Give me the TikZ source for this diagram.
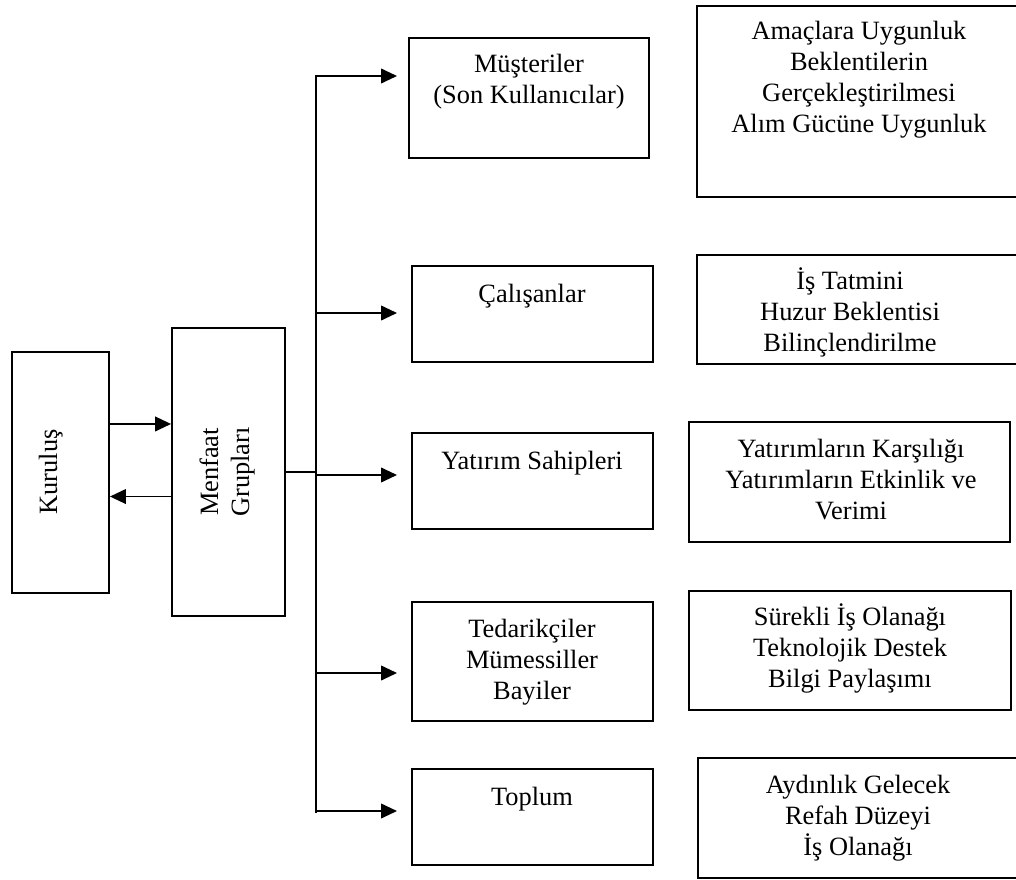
\documentclass[tikz,border=0pt]{standalone}
\usepackage{fontspec}
\setmainfont{Liberation Serif}
\usetikzlibrary{arrows.meta,fit}
% centred stack of lines whose baseline is that of its first line
\newcommand\stk[1]{\begin{tabular}[t]{@{}c@{}}#1\end{tabular}}
\begin{document}
\begin{tikzpicture}[x=0.75pt,y=-0.75pt,
  box/.style={draw,line width=1.4pt,inner sep=0pt,rectangle},
  lbl/.style={anchor=base,inner sep=0pt,font=\fontsize{19.8}{23.25}\selectfont},
  link/.style={line width=1.4pt},
  arr/.style={link,-{Triangle[length=12pt,width=11pt]}}]
\useasboundingbox (0,0) rectangle (1016,880);
\clip (0,0) rectangle (1016,880);

% main boxes
\node[box,fit={(12,352) (109,593)}] (kur) {};
\node[box,fit={(172,328) (285,616)}] (men) {};
\node[lbl,rotate=90] (kurT) at (57,472) {Kuruluş};
\node[lbl,rotate=90] (menT) at (218,472) {\stk{Menfaat\\Grupları}};

% stakeholder groups
\node[box,fit={(409,38) (649,158)}] (mus) {};
\node[box,fit={(412,266) (653,362)}] (cal) {};
\node[box,fit={(412,433) (653,529)}] (yat) {};
\node[box,fit={(412,602) (653,721)}] (ted) {};
\node[box,fit={(412,769) (653,865)}] (top) {};
\node[lbl] (musT) at (529,73) {\stk{Müşteriler\\(Son Kullanıcılar)}};
\node[lbl] (calT) at (532,302) {Çalışanlar};
\node[lbl] (yatT) at (532,469) {Yatırım Sahipleri};
\node[lbl] (tedT) at (532,637) {\stk{Tedarikçiler\\Mümessiller\\Bayiler}};
\node[lbl] (topT) at (532,805) {Toplum};

% expectations of each group
\node[box,fit={(697,6) (1022,197)}] (r1) {};
\node[box,fit={(697,255) (1022,364)}] (r2) {};
\node[box,fit={(689,422) (1010,542)}] (r3) {};
\node[box,fit={(689,591) (1011,710)}] (r4) {};
\node[box,fit={(698,758) (1022,878)}] (r5) {};
\node[lbl] (r1T) at (859,40) {\stk{Amaçlara Uygunluk\\Beklentilerin\\Gerçekleştirilmesi\\Alım Gücüne Uygunluk}};
\node[lbl] (r2T) at (850,290) {\stk{İş Tatmini\\Huzur Beklentisi\\Bilinçlendirilme}};
\node[lbl] (r3T) at (851,457) {\stk{Yatırımların Karşılığı\\Yatırımların Etkinlik ve\\Verimi}};
\node[lbl] (r4T) at (850,625) {\stk{Sürekli İş Olanağı\\Teknolojik Destek\\Bilgi Paylaşımı}};
\node[lbl] (r5T) at (858,793) {\stk{Aydınlık Gelecek\\Refah Düzeyi\\İş Olanağı}};

% two-way link between the organisation and the groups
\draw[arr] ([yshift=36.4pt]kur.east) -- ([yshift=36.4pt]kur.east -| men.west);
\draw[arr] ([yshift=-18.4pt]men.west) -- ([yshift=-18.4pt]men.west -| kur.east);

% distribution spine
\coordinate (spT) at (316,76);
\coordinate (spB) at (316,813);
\coordinate (musIn) at (397,76);
\coordinate (calIn) at (397,313);
\coordinate (yatIn) at (397,475);
\coordinate (tedIn) at (397,673);
\coordinate (topIn) at (397,811);
\draw[link] (men.east) -- (men.east -| spT);
\draw[arr] (spB) -- (spT) -- (musIn);
\draw[arr] (spT |- calIn) -- (calIn);
\draw[arr] (spT |- yatIn) -- (yatIn);
\draw[arr] (spT |- tedIn) -- (tedIn);
\draw[arr] (spT |- topIn) -- (topIn);
\end{tikzpicture}
\end{document}
